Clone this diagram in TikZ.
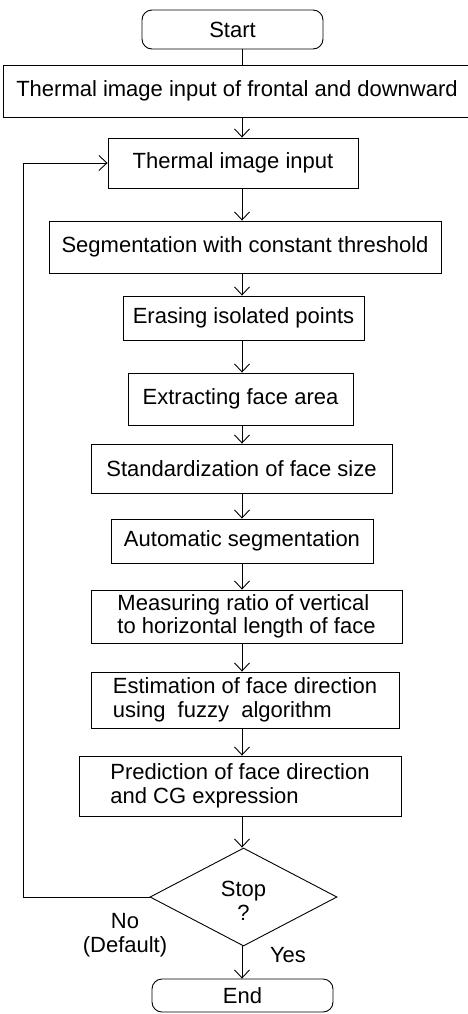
\documentclass[tikz,border=0pt]{standalone}
\usepackage{fontspec}
\setmainfont{Liberation Sans}
\usetikzlibrary{arrows.meta,shapes.geometric}
\begin{document}
\begin{tikzpicture}[x=1pt,y=-1pt,line width=0.9pt,
  every node/.style={font=\fontsize{22}{23.5}\selectfont,inner sep=0pt},
  proc/.style={draw,rectangle},
  term/.style={draw,rectangle,rounded corners=10pt},
  decision/.style={draw,diamond},
  lbl/.style={align=center},
  flow/.style={-{Straight Barb[length=8pt,width=15pt]}}]
\useasboundingbox (0,0) rectangle (467,1014);
\coordinate (axis) at (242,0);
\coordinate (loop) at (23,0);
\node[term,minimum width=181pt,minimum height=39pt] (start) at (232.5,29.5) {Start};
\node[proc,minimum width=467pt,minimum height=52pt] (b1) at (237,91) {Thermal image input of frontal and downward};
\node[proc,minimum width=250pt,minimum height=50pt] (b2) at (233,163) {Thermal image input};
\node[proc,minimum width=392pt,minimum height=52pt] (b3) at (245,247) {Segmentation with constant threshold};
\node[proc,minimum width=241pt,minimum height=44pt] (b4) at (243.5,318) {Erasing isolated points};
\node[proc,minimum width=225pt,minimum height=52pt] (b5) at (240.5,399) {Extracting face area};
\node[proc,minimum width=301pt,minimum height=49pt] (b6) at (241.5,468.5) {Standardization of face size};
\node[proc,minimum width=262pt,minimum height=44pt] (b7) at (242,541) {Automatic segmentation};
\node[proc,minimum width=311pt,minimum height=53pt,align=left] (b8) at (246.5,616.5) {Measuring ratio of vertical\\to horizontal length of face};
\node[proc,minimum width=308pt,minimum height=56pt,align=left] (b9) at (245,700) {Estimation of face direction\\using\ \ fuzzy\ \ algorithm};
\node[proc,minimum width=322pt,minimum height=60pt,align=left] (b10) at (240,786) {Prediction of face direction\\and CG expression};
\node[decision,minimum width=187pt,minimum height=98pt] (dec) at (243.5,897) {};
\node[lbl] (stop) at (243.5,901) {Stop\\?};
\node[term,minimum width=181pt,minimum height=33pt] (end) at (242.5,995.5) {End};
\node[lbl] (no) at (125,935) {No\\(Default)};
\node[lbl] (yes) at (288,955) {Yes};
\draw (start.south -| axis) -- (b1.north -| axis);
\draw[flow] (b1.south -| axis) -- (b2.north -| axis);
\draw[flow] (b2.south -| axis) -- (b3.north -| axis);
\draw[flow] (b3.south -| axis) -- (b4.north -| axis);
\draw[flow] (b4.south -| axis) -- (b5.north -| axis);
\draw[flow] (b5.south -| axis) -- (b6.north -| axis);
\draw[flow] (b6.south -| axis) -- (b7.north -| axis);
\draw[flow] (b7.south -| axis) -- (b8.north -| axis);
\draw[flow] (b8.south -| axis) -- (b9.north -| axis);
\draw[flow] (b9.south -| axis) -- (b10.north -| axis);
\draw[flow] (b10.south -| axis) -- (dec.north -| axis);
\draw[flow] (dec.south -| axis) -- (end.north -| axis);
\draw[flow] (dec.west) -- (dec.west -| loop) -- (b2.west -| loop) -- (b2.west);
\end{tikzpicture}
\end{document}
